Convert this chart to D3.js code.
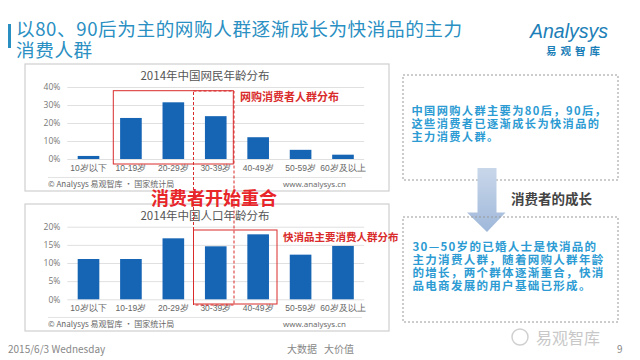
<!DOCTYPE html>
<html><head><meta charset="utf-8">
<script src="https://cdn.jsdelivr.net/npm/d3@7"></script>
<style>
html,body{margin:0;padding:0;background:#fff;}
svg{display:block;font-family:"Noto Sans CJK SC","Noto Sans",sans-serif;}
</style></head>
<body><svg id="c" width="640" height="360"></svg>
<script>
const categories = ["10岁以下","10-19岁","20-29岁","30-39岁","40-49岁","50-59岁","60岁及以上"];
const netizenShare = [1.7, 22.8, 31.5, 23.8, 12.1, 5.1, 2.4];
const populationShare = [11.1, 11.1, 16.8, 14.6, 17.9, 12.3, 14.7];
const netizenTicks = [0, 10, 20, 30, 40];
const populationTicks = [0, 5, 10, 15, 20];
const titleLines = ["以80、90后为主的网购人群逐渐成长为快消品的主力", "消费人群"];
const chartTitles = ["2014年中国网民年龄分布", "2014年中国人口年龄分布"];
const sourceLeft = "© Analysys 易观智库 · 国家统计局";
const sourceRight = "www.analysys.cn";
const box1Lines = ["中国网购人群主要为80后，90后，", "这些消费者已逐渐成长为快消品的", "主力消费人群。"];
const box2Lines = ["30—50岁的已婚人士是快消品的", "主力消费人群，随着网购人群年龄", "的增长，两个群体逐渐重合，快消", "品电商发展的用户基础已形成。"];

const svg = d3.select("#c");
const BLUE = "#1665b5", RED = "#d92b2b", TEAL = "#2a8fc2";

// title
svg.append("rect").attr("x",8).attr("y",24).attr("width",3).attr("height",24).attr("fill",TEAL);
titleLines.forEach((t,i)=>svg.append("text").attr("x",16).attr("y",36+i*21).attr("font-size",18.6)
  .attr("letter-spacing",0.6).attr("fill",TEAL).text(t));

// logo
svg.append("text").attr("x",530).attr("y",38).attr("font-size",19.5).attr("font-style","italic")
  .attr("font-family","Liberation Sans, sans-serif").attr("fill","#1d7fb8").text("Analysys");
svg.append("text").attr("x",546).attr("y",55).attr("font-size",10.5).attr("font-weight","bold")
  .attr("letter-spacing",4).attr("fill","#1d7fb8").text("易观智库");

const x = d3.scaleBand().domain(categories).range([67.3,364.2]).paddingInner(0.49).paddingOuter(0.245);

function panel(top, bottom, y0, y1, maxV, ticks, values, title){
  const g = svg.append("g");
  g.append("rect").attr("x",25).attr("y",top).attr("width",364).attr("height",bottom-top)
    .attr("fill","#fff").attr("stroke","#cfcfcf").attr("stroke-width",1.2);
  g.append("text").attr("x",205).attr("y",top+15.5).attr("text-anchor","middle").attr("font-size",11.5)
    .attr("fill","#555").text(title);
  const y = d3.scaleLinear().domain([0,maxV]).range([y0,y1]);
  const ax = d3.axisLeft(y).tickValues(ticks).tickSize(-(364.2-67.3)).tickFormat(d=>d+"%");
  const ag = g.append("g").attr("transform","translate(67.3,0)").call(ax);
  ag.select(".domain").remove();
  ag.selectAll("line").attr("stroke","#e0e0e0");
  ag.selectAll("text").attr("font-size",8.5).attr("fill","#777").attr("x",-7)
    .attr("font-family","Open Sans, sans-serif");
  g.selectAll(".bar").data(values).enter().append("rect")
    .attr("x",(d,i)=>x(categories[i])).attr("width",x.bandwidth())
    .attr("y",d=>y(d)).attr("height",d=>y(0)-y(d)).attr("fill",BLUE);
  const xa = d3.axisBottom(x).tickSize(0);
  const xg = g.append("g").attr("transform",`translate(0,${y0+3})`).call(xa);
  xg.select(".domain").remove();
  xg.selectAll("text").attr("font-size",8.5).attr("fill","#666");
  g.append("line").attr("x1",48).attr("x2",362).attr("y1",bottom-13.5).attr("y2",bottom-13.5)
    .attr("stroke","#e3e3e3");
  g.append("text").attr("x",48).attr("y",bottom-4).attr("font-size",8).attr("fill","#666").text(sourceLeft);
  g.append("text").attr("x",346).attr("y",bottom-4).attr("text-anchor","end").attr("font-size",8)
    .attr("fill","#666").attr("font-family","Open Sans, sans-serif").text(sourceRight);
  return y;
}
panel(64, 191, 159, 87, 40, netizenTicks, netizenShare, chartTitles[0]);
panel(204, 331, 299.3, 226.7, 20, populationTicks, populationShare, chartTitles[1]);

// red highlight rects
svg.append("rect").attr("x",113.3).attr("y",90.7).attr("width",120).attr("height",73.3)
  .attr("fill","none").attr("stroke",RED).attr("stroke-width",1);
svg.append("rect").attr("x",193.5).attr("y",230).attr("width",83.5).attr("height",74)
  .attr("fill","none").attr("stroke",RED).attr("stroke-width",1);
svg.append("rect").attr("x",193.5).attr("y",91).attr("width",40.5).attr("height",214)
  .attr("fill","none").attr("stroke",RED).attr("stroke-width",1).attr("stroke-dasharray","3,2");

svg.append("text").attr("x",240).attr("y",101).attr("font-size",11).attr("font-weight","bold")
  .attr("fill",RED).text("网购消费者人群分布");
svg.append("text").attr("x",283).attr("y",241).attr("font-size",10.5).attr("font-weight","bold")
  .attr("fill",RED).text("快消品主要消费人群分布");
svg.append("text").attr("x",214).attr("y",204.5).attr("text-anchor","middle").attr("font-size",18)
  .attr("font-weight","bold").attr("fill","#e8262a").text("消费者开始重合");

// right boxes
svg.append("rect").attr("x",403).attr("y",75).attr("width",215).attr("height",105)
  .attr("fill","#fff").attr("stroke","#999").attr("stroke-dasharray","2,2");
// arrow
const grad = svg.append("defs").append("linearGradient").attr("id","ag").attr("x1",0).attr("x2",0).attr("y1",0).attr("y2",1);
grad.append("stop").attr("offset","0").attr("stop-color","#c9d7ea");
grad.append("stop").attr("offset","1").attr("stop-color","#9fb8da");
svg.append("path").attr("d","M477.5,168 L496.5,168 L496.5,212.5 L505.5,212.5 L487,232 L467,212.5 L477.5,212.5 Z")
  .attr("fill","url(#ag)");
svg.append("rect").attr("x",403).attr("y",217).attr("width",215).attr("height",105)
  .attr("fill","none").attr("stroke","#999").attr("stroke-dasharray","2,2");
box1Lines.forEach((t,i)=>svg.append("text").attr("x",411.5).attr("y",115+i*13).attr("font-size",11.2)
  .attr("letter-spacing",1.4).attr("font-weight","bold").attr("fill","#2c9bd3").text(t));
box2Lines.forEach((t,i)=>svg.append("text").attr("x",412.5).attr("y",250.5+i*13.1).attr("font-size",11.5)
  .attr("letter-spacing",1.3).attr("font-weight","bold").attr("fill","#2c9bd3").text(t));
svg.append("text").attr("x",511).attr("y",204).attr("font-size",13.5).attr("font-weight","bold")
  .attr("fill","#444").text("消费者的成长");

// watermark & footer
svg.append("text").attr("x",536).attr("y",344).attr("font-size",16).attr("fill","#c8c8c8").text("易观智库");
svg.append("circle").attr("cx",520).attr("cy",337).attr("r",8).attr("fill","none").attr("stroke","#d0d0d0").attr("stroke-width",1.5);
svg.append("text").attr("x",8).attr("y",353).attr("font-size",10).attr("fill","#888").text("2015/6/3 Wednesday");
svg.append("text").attr("x",287).attr("y",353).attr("font-size",10).attr("fill","#888").text("大数据");
svg.append("text").attr("x",324).attr("y",353).attr("font-size",10).attr("fill","#888").text("大价值");
svg.append("text").attr("x",617).attr("y",353).attr("font-size",10).attr("fill","#888").text("9");
</script></body></html>
